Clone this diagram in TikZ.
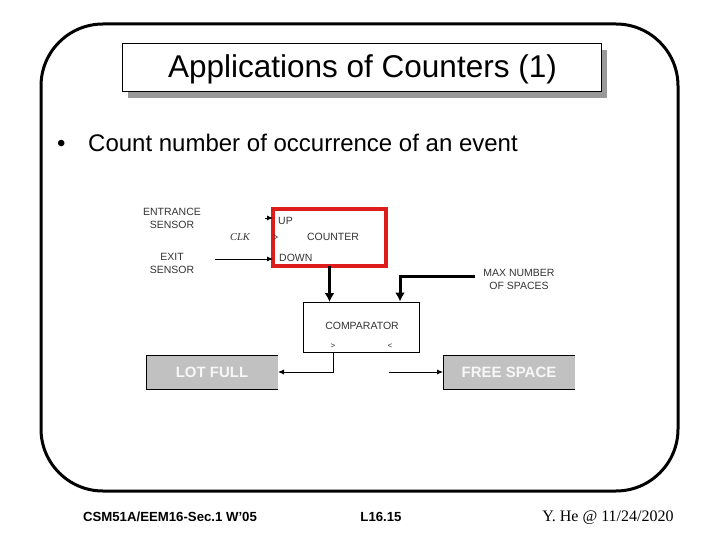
\documentclass[tikz,border=0pt]{standalone}
\usepackage{fontspec}
\setmainfont{Liberation Sans}
\newfontfamily\serifx{Liberation Serif}
\usetikzlibrary{arrows.meta}
\definecolor{redbox}{HTML}{DD1C1C}
\definecolor{grayfill}{HTML}{C0C1C0}
\definecolor{lbl}{HTML}{333333}
\begin{document}
\begin{tikzpicture}[x=1pt,y=-1pt,
  lab/.style={font=\fontsize{10.5}{12}\selectfont, text=lbl, inner sep=0pt, align=center},
  thinarrow/.style={line width=0.8pt, -{Latex[length=6pt,width=5pt]}},
  thickarrow/.style={line width=3pt, -{Latex[length=9pt,width=10pt]}},
  outbox/.style={fill=grayfill, minimum width=132pt, minimum height=34pt, inner sep=0pt, outer sep=0pt,
    font=\fontsize{15}{17}\selectfont\bfseries, text=white!97!black},
  foot/.style={inner sep=0pt, anchor=base}
]
\useasboundingbox (0,0) rectangle (720,540);
% frame
\draw[line width=3pt, rounded corners=62pt] (41,24) rectangle (678,491);
% title
\fill[gray!80] (128,50) rectangle (607,98);
\node[draw, fill=white, line width=0.8pt, minimum width=479pt, minimum height=48pt, inner sep=0pt, outer sep=0pt] (title) at (361.5,67) {};
\node[inner sep=0pt, anchor=base, font=\fontsize{31.5}{34}\selectfont] (ttext) at (362.5,78) {Applications of Counters (1)};
% bullet
\node[anchor=base west, inner sep=0pt, font=\fontsize{24}{28}\selectfont] (bul) at (57,152) {•};
\node[anchor=base west, inner sep=0pt, font=\fontsize{24}{28}\selectfont] (btext) at (88,152) {Count number of occurrence of an event};
% counter
\node[draw=redbox, line width=4pt, minimum width=113pt, minimum height=57pt, inner sep=0pt, outer sep=0pt] (counter) at (329.5,237.5) {};
\node[lab, anchor=west] (up) at (278,221) {UP};
\node[lab] (cnt) at (333,237) {COUNTER};
\node[lab, anchor=west] (down) at (279,258) {DOWN};
\node[lab] (ent) at (172,218) {ENTRANCE\\[1pt]SENSOR};
\node[lab] (exit) at (172,263) {EXIT\\[1pt]SENSOR};
\node[inner sep=0pt, font=\serifx\itshape\fontsize{10.5}{12}\selectfont, text=lbl] (clk) at (240,237) {CLK};
\coordinate (upstub) at (265,218);
\draw[thinarrow] (upstub) -- (upstub -| counter.west);
\draw[thinarrow] (215,259) coordinate (exitend) -- (exitend -| counter.west);
\draw[line width=0.5pt, lbl] (273.5,234.5) -- (277.5,237) -- (273.5,239.5);
% comparator
\node[draw, line width=0.8pt, minimum width=116pt, minimum height=50pt, inner sep=0pt, outer sep=0pt] (comp) at (361,327) {};
\node[lab] (cmp) at (362,326) {COMPARATOR};
\node[lab, font=\fontsize{8}{9}\selectfont] (gt) at (333,346) {>};
\node[lab, font=\fontsize{8}{9}\selectfont] (lt) at (390,346) {<};
\node[lab] (max) at (519,279) {MAX NUMBER\\[1pt]OF SPACES};
\coordinate (mxin) at (475,276);
\draw[thickarrow] (counter.south) -- (counter.south |- comp.north);
\draw[thickarrow] (mxin) -- (400,276) -- (400,301.5);
% outputs
\node[outbox] (lot) at (212,372) {LOT FULL};
\node[outbox] (free) at (509,372) {FREE SPACE};
\draw[line width=0.8pt] (lot.north east) -- (lot.north west) -- (lot.south west) -- (lot.south east);
\draw[line width=0.8pt] (free.north east) -- (free.north west) -- (free.south west) -- (free.south east);
\draw[thinarrow] (comp.south -| 333,0) -- (333,372) -- (lot.east);
\coordinate (frst) at (389,372);
\draw[thinarrow] (frst) -- (free.west);
% footer
\node[foot, font=\fontsize{13.2}{15}\selectfont\bfseries] (f1) at (170,521) {CSM51A/EEM16-Sec.1 W'05};
\node[foot, font=\fontsize{13.2}{15}\selectfont\bfseries] (f2) at (381,521) {L16.15};
\node[foot, font=\serifx\fontsize{16}{18}\selectfont] (f3) at (608,521) {Y. He @ 11/24/2020};
\end{tikzpicture}
\end{document}
